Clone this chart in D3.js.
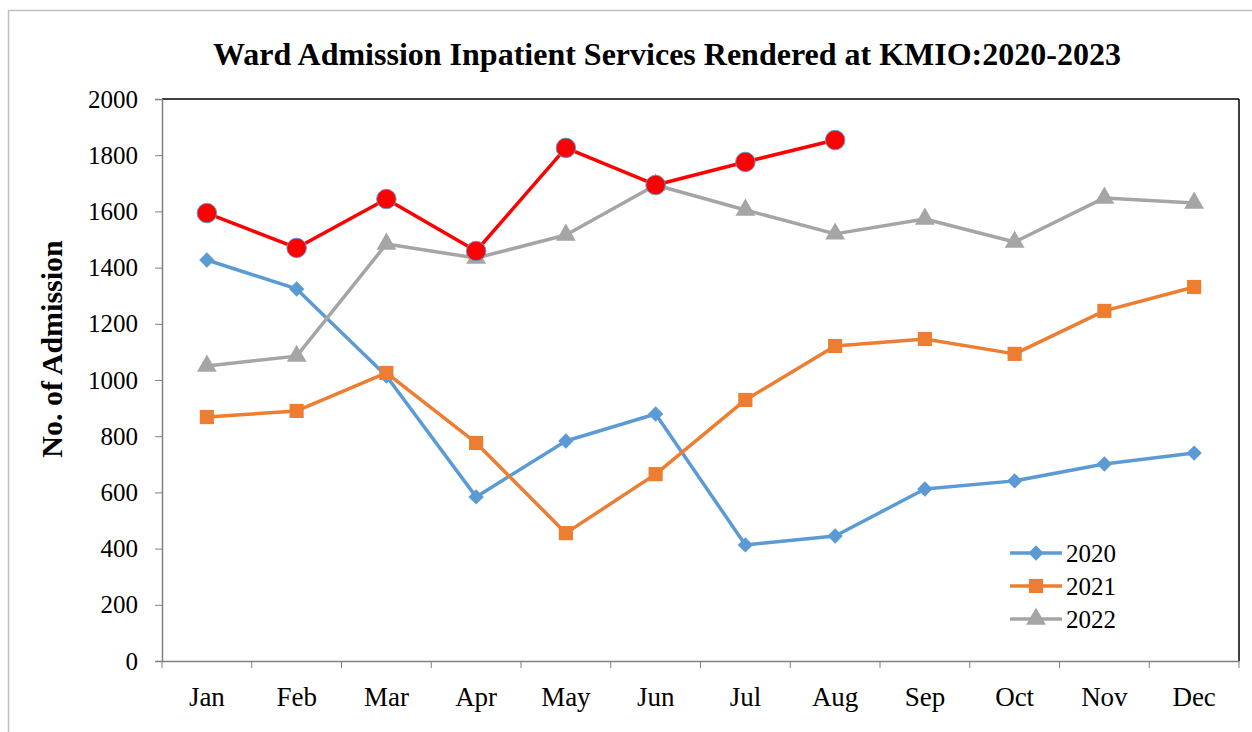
<!DOCTYPE html>
<html lang="en">
<head>
<meta charset="UTF-8">
<title>Ward Admission Inpatient Services</title>
<script src="https://d3js.org/d3.v7.min.js"></script>
<style>
    body { margin: 0; padding: 0; background: #fff; }
    svg { display: block; font-family: "Liberation Serif", "Times New Roman", serif; }
</style>
</head>
<body>
<div id="chart"></div>
<script>
    const months = ["Jan", "Feb", "Mar", "Apr", "May", "Jun", "Jul", "Aug", "Sep", "Oct", "Nov", "Dec"];
    const yTicks = [0, 200, 400, 600, 800, 1000, 1200, 1400, 1600, 1800, 2000];

    const v2020 = [1427, 1324, 1014, 584, 783, 879, 413, 445, 612, 641, 701, 740];
    const v2021 = [868, 890, 1025, 776, 455, 665, 929, 1121, 1146, 1093, 1246, 1331];
    const v2022 = [1050, 1085, 1484, 1434, 1516, 1694, 1605, 1520, 1573, 1491, 1648, 1630];
    const v2023 = [1594, 1470, 1644, 1459, 1826, 1694, 1776, 1854];

    const series = [
        { name: "2020", values: v2020, color: "#5B9BD5", symbol: "diamond", legend: true },
        { name: "2021", values: v2021, color: "#ED7D31", symbol: "square", legend: true },
        { name: "2022", values: v2022, color: "#A5A5A5", symbol: "triangle", legend: true },
        { name: "2023", values: v2023, color: "#FF0000", symbol: "circle", legend: false }
    ];

    const width = 1252, height = 732;
    const margin = { top: 99, right: 13, bottom: 71, left: 162 };
    const fontSize = 25;

    const svg = d3.select("#chart").append("svg")
        .attr("width", width)
        .attr("height", height);

    // outer chart frame
    svg.append("rect")
        .attr("x", 8.5).attr("y", 10.5)
        .attr("width", 1260).attr("height", 740)
        .attr("fill", "none")
        .attr("stroke", "#bfbfbf")
        .attr("stroke-width", 1.5);

    const x = d3.scaleBand()
        .domain(months)
        .range([margin.left, width - margin.right]);

    const y = d3.scaleLinear()
        .domain([0, 2000])
        .range([height - margin.bottom, margin.top]);

    // plot area border: top and right dark
    svg.append("line")
        .attr("x1", margin.left).attr("x2", width - margin.right)
        .attr("y1", margin.top).attr("y2", margin.top)
        .attr("stroke", "#000").attr("stroke-width", 1.5);
    svg.append("line")
        .attr("x1", width - margin.right).attr("x2", width - margin.right)
        .attr("y1", margin.top).attr("y2", height - margin.bottom)
        .attr("stroke", "#000").attr("stroke-width", 1.5);

    const yAxis = svg.append("g")
        .attr("transform", `translate(${margin.left},0)`)
        .call(d3.axisLeft(y).tickValues(yTicks).tickFormat(d3.format("d")).tickSize(7).tickPadding(17));

    const xAxis = svg.append("g")
        .attr("transform", `translate(0,${height - margin.bottom})`)
        .call(d3.axisBottom(x).tickSize(0).tickPadding(26));

    // x ticks at band edges
    xAxis.selectAll(".edge")
        .data(months.map(m => x(m)).concat([width - margin.right]))
        .enter().append("line")
        .attr("x1", d => d).attr("x2", d => d)
        .attr("y1", 0).attr("y2", 7)
        .attr("stroke", "#808080");

    [yAxis, xAxis].forEach(g => {
        g.select(".domain").attr("stroke", "#808080").attr("stroke-width", 1.5);
        g.selectAll(".tick line").attr("stroke", "#808080");
        g.selectAll("text")
            .attr("font-family", "'Liberation Serif', 'Times New Roman', serif")
            .attr("font-size", fontSize)
            .attr("fill", "#000");
    });
    xAxis.selectAll("text").attr("font-size", 27);

    const line = d3.line()
        .x((d, i) => x(months[i]) + x.bandwidth() / 2)
        .y(d => y(d));

    const symbolOf = {
        diamond: d3.symbol().type(d3.symbolDiamond2).size(150),
        square: d3.symbol().type(d3.symbolSquare).size(200),
        triangle: d3.symbol().type(d3.symbolTriangle).size(170),
        circle: d3.symbol().type(d3.symbolCircle).size(300)
    };

    series.forEach(s => {
        svg.append("path")
            .datum(s.values)
            .attr("d", line)
            .attr("fill", "none")
            .attr("stroke", s.color)
            .attr("stroke-width", 3.5)
            .attr("stroke-linejoin", "round");

        svg.append("g").selectAll("path")
            .data(s.values)
            .enter().append("path")
            .attr("transform", (d, i) => `translate(${x(months[i]) + x.bandwidth() / 2},${y(d)})`)
            .attr("d", symbolOf[s.symbol])
            .attr("fill", s.color)
            .attr("stroke", s.symbol === "circle" ? "#5B9BD5" : "none")
            .attr("stroke-width", 1);
    });

    // legend
    const legend = svg.append("g").attr("transform", "translate(1010,553)");
    series.filter(s => s.legend).forEach((s, i) => {
        const row = legend.append("g").attr("transform", `translate(0,${i * 33})`);
        row.append("line")
            .attr("x1", 0).attr("x2", 52)
            .attr("stroke", s.color).attr("stroke-width", 3.5);
        row.append("path")
            .attr("transform", "translate(26,0)")
            .attr("d", symbolOf[s.symbol])
            .attr("fill", s.color);
        row.append("text")
            .attr("x", 56).attr("y", 9)
            .attr("font-size", fontSize)
            .text(s.name);
    });

    // title
    svg.append("text")
        .attr("x", 667).attr("y", 65)
        .attr("text-anchor", "middle")
        .attr("font-size", 32)
        .attr("font-weight", "bold")
        .text("Ward Admission Inpatient Services Rendered at KMIO:2020-2023");

    // y axis title
    svg.append("text")
        .attr("transform", "translate(62,349) rotate(-90)")
        .attr("text-anchor", "middle")
        .attr("font-size", 30)
        .attr("font-weight", "bold")
        .text("No. of Admission");
</script>
</body>
</html>
